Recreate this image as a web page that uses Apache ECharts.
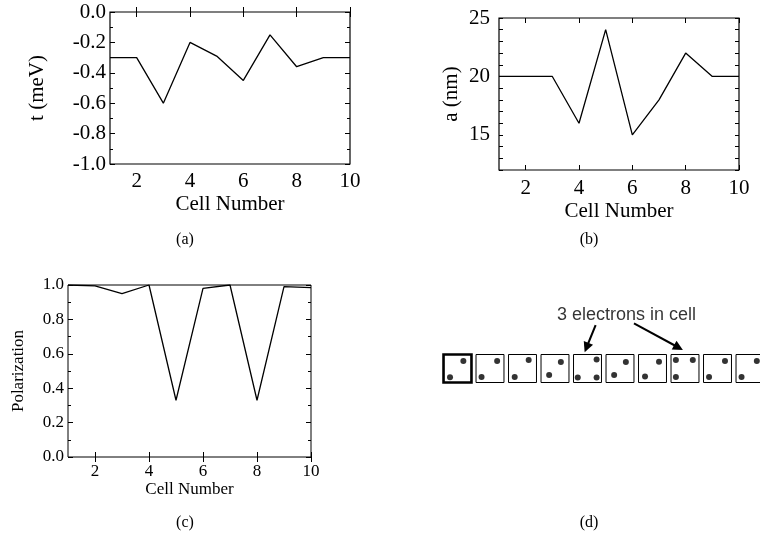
<!DOCTYPE html>
<html>
<head>
<meta charset="utf-8">
<script src="https://cdn.jsdelivr.net/npm/echarts@6/dist/echarts.min.js"></script>
<style>
  html, body { margin: 0; padding: 0; background: #fff; }
  #chart { width: 760px; height: 535px; }
</style>
</head>
<body>
<div id="chart"></div>
<script>
// Cell index along the chain (shared x values of panels a, b, c)
const cellNumbers = [1, 2, 3, 4, 5, 6, 7, 8, 9, 10];

// (a) tunnelling energy t per cell
const hoppingT = [-0.3, -0.3, -0.6, -0.2, -0.29, -0.45, -0.15, -0.36, -0.3, -0.3];
// (b) cell size a per cell
const cellSize = [20, 20, 20, 16, 24, 15, 18, 22, 20, 20];
// (c) polarization per cell
const polarization = [1.0, 0.995, 0.95, 1.0, 0.33, 0.98, 1.0, 0.33, 0.99, 0.985];

// tick labels
const xTickValues = [2, 4, 6, 8, 10];
const bTickValues = [15, 20, 25];
const bMinorTicks = [12, 13, 14, 15, 16, 17, 18, 19, 20, 21, 22, 23, 24, 25];

// (d) electrons drawn in each cell: [cell, offset from cell centre, height in cell]
const electronDots = [
  [1, 0.18, 0.77], [1, -0.23, 0.19],
  [2, 0.22, 0.77], [2, -0.26, 0.2],
  [3, 0.19, 0.8], [3, -0.24, 0.2],
  [4, 0.18, 0.73], [4, -0.18, 0.27],
  [5, 0.28, 0.82], [5, -0.3, 0.18], [5, 0.28, 0.18],
  [6, 0.18, 0.73], [6, -0.18, 0.27],
  [7, 0.2, 0.74], [7, -0.23, 0.21],
  [8, -0.28, 0.8], [8, 0.24, 0.8], [8, -0.28, 0.2],
  [9, 0.23, 0.77], [9, -0.26, 0.2],
  [10, 0.21, 0.77], [10, -0.26, 0.2]
];
const annotationText = '3 electrons in cell';
const annotationAt = [6.2, 2.4];
const annotationArrows = [
  [[5.25, 2.05], [4.97, 1.25]],
  [[6.43, 2.11], [7.8, 1.25]]
];

var chart = echarts.init(document.getElementById('chart'));

const serif = 'Liberation Serif';
const black = '#000';

function pair(xs, ys) {
  return xs.map(function (x, i) { return [x, ys[i]]; });
}

// x axes: bottom with labels, top mirror with ticks only
function xAxes(g, fs, margin, gap) {
  const base = {
    gridIndex: g, type: 'value', min: 1, max: 10,
    axisLine: { show: false }, splitLine: { show: false },
    axisTick: { inside: true, length: 5, lineStyle: { color: black }, customValues: xTickValues }
  };
  return [
    Object.assign({}, base, {
      position: 'bottom',
      name: 'Cell Number', nameLocation: 'middle', nameGap: gap,
      nameTextStyle: { fontFamily: serif, fontSize: fs, color: black },
      axisLabel: { customValues: xTickValues, fontFamily: serif, fontSize: fs, color: black, margin: margin }
    }),
    Object.assign({}, base, { position: 'top', axisLabel: { show: false } })
  ];
}

const option = {
  backgroundColor: '#fff',
  animation: false,
  grid: [
    { left: 110, top: 12, width: 240, height: 152, show: true, borderColor: black, borderWidth: 1.2 },
    { left: 499, top: 18, width: 240, height: 152, show: true, borderColor: black, borderWidth: 1.2 },
    { left: 68, top: 285, width: 243, height: 172, show: true, borderColor: black, borderWidth: 1 },
    { left: 441.25, top: 354.5, width: 318.5, height: 28 }
  ],
  xAxis: [].concat(
    xAxes(0, 21, 7, 30),
    xAxes(1, 21, 8, 31),
    xAxes(2, 17, 6, 24),
    [{ gridIndex: 3, type: 'value', min: 0.5, max: 10.3, show: false }]
  ),
  yAxis: [
    // (a)
    {
      gridIndex: 0, type: 'value', min: -1, max: 0, interval: 0.2, position: 'left',
      name: 't (meV)', nameLocation: 'middle', nameGap: 62,
      nameTextStyle: { fontFamily: serif, fontSize: 21, color: black },
      axisLine: { show: false }, splitLine: { show: false },
      axisTick: { inside: true, length: 5, lineStyle: { color: black } },
      minorTick: { show: true, splitNumber: 2, length: 3, lineStyle: { color: black } },
      axisLabel: { fontFamily: serif, fontSize: 21, color: black, margin: 4,
        formatter: function (v) { return v.toFixed(1); } }
    },
    {
      gridIndex: 0, type: 'value', min: -1, max: 0, interval: 0.2, position: 'right',
      axisLine: { show: false }, splitLine: { show: false }, axisLabel: { show: false },
      axisTick: { inside: true, length: 5, lineStyle: { color: black } },
      minorTick: { show: true, splitNumber: 2, length: 3, lineStyle: { color: black } }
    },
    // (b)
    {
      gridIndex: 1, type: 'value', min: 12, max: 25, position: 'left',
      name: 'a (nm)', nameLocation: 'middle', nameGap: 37,
      nameTextStyle: { fontFamily: serif, fontSize: 21, color: black },
      axisLine: { show: false }, splitLine: { show: false },
      axisTick: { inside: true, length: 4, lineStyle: { color: black }, customValues: bMinorTicks },
      axisLabel: { customValues: bTickValues, fontFamily: serif, fontSize: 21, color: black, margin: 9 }
    },
    {
      gridIndex: 1, type: 'value', min: 12, max: 25, position: 'right',
      axisLine: { show: false }, splitLine: { show: false }, axisLabel: { show: false },
      axisTick: { inside: true, length: 4, lineStyle: { color: black }, customValues: bMinorTicks }
    },
    // (c)
    {
      gridIndex: 2, type: 'value', min: 0, max: 1, interval: 0.2, position: 'left',
      name: 'Polarization', nameLocation: 'middle', nameGap: 41,
      nameTextStyle: { fontFamily: serif, fontSize: 17, color: black },
      axisLine: { show: false }, splitLine: { show: false },
      axisTick: { inside: true, length: 5, lineStyle: { color: black } },
      minorTick: { show: true, splitNumber: 2, length: 3, lineStyle: { color: black } },
      axisLabel: { fontFamily: serif, fontSize: 17, color: black, margin: 4,
        formatter: function (v) { return v.toFixed(1); } }
    },
    {
      gridIndex: 2, type: 'value', min: 0, max: 1, interval: 0.2, position: 'right',
      axisLine: { show: false }, splitLine: { show: false }, axisLabel: { show: false },
      axisTick: { inside: true, length: 5, lineStyle: { color: black } },
      minorTick: { show: true, splitNumber: 2, length: 3, lineStyle: { color: black } }
    },
    // (d)
    { gridIndex: 3, type: 'value', min: 0, max: 1, show: false }
  ],
  series: [
    {
      type: 'line', xAxisIndex: 0, yAxisIndex: 0, data: pair(cellNumbers, hoppingT),
      symbol: 'none', lineStyle: { color: black, width: 1.3 }
    },
    {
      type: 'line', xAxisIndex: 2, yAxisIndex: 2, data: pair(cellNumbers, cellSize),
      symbol: 'none', lineStyle: { color: black, width: 1.3 }
    },
    {
      type: 'line', xAxisIndex: 4, yAxisIndex: 4, data: pair(cellNumbers, polarization),
      symbol: 'none', lineStyle: { color: black, width: 1.3 }
    },
    // (d) cells of the chain
    {
      type: 'custom', xAxisIndex: 6, yAxisIndex: 6, clip: false,
      data: cellNumbers.map(function (c) { return [c, 0.5]; }),
      renderItem: function (params, api) {
        const c = api.coord([api.value(0), api.value(1)]);
        const s = api.size([0.86, 1]);
        return {
          type: 'rect',
          shape: { x: c[0] - s[0] / 2, y: c[1] - s[1] / 2, width: s[0], height: s[1] },
          style: { fill: 'none', stroke: black, lineWidth: params.dataIndex === 0 ? 2.6 : 1 }
        };
      }
    },
    {
      type: 'scatter', xAxisIndex: 6, yAxisIndex: 6, clip: false,
      data: electronDots.map(function (d) { return [d[0] + d[1], d[2]]; }),
      symbol: 'circle', symbolSize: 6, itemStyle: { color: black }
    },
    {
      type: 'lines', coordinateSystem: 'cartesian2d', xAxisIndex: 6, yAxisIndex: 6, clip: false,
      data: annotationArrows.map(function (a) { return { coords: a }; }),
      symbol: ['none', 'triangle'], symbolSize: 10,
      lineStyle: { color: black, width: 2, opacity: 1 }
    },
    {
      type: 'scatter', xAxisIndex: 6, yAxisIndex: 6, clip: false,
      data: [annotationAt], symbolSize: 1, itemStyle: { color: 'rgba(0,0,0,0)' },
      label: {
        show: true, position: 'inside', formatter: annotationText,
        fontFamily: 'Liberation Sans', fontSize: 18, color: black
      }
    }
  ],
  graphic: [
    { type: 'text', x: 185, y: 240, style: { text: '(a)', align: 'center', verticalAlign: 'middle', font: '16px "Liberation Serif"', fill: black } },
    { type: 'text', x: 589, y: 240, style: { text: '(b)', align: 'center', verticalAlign: 'middle', font: '16px "Liberation Serif"', fill: black } },
    { type: 'text', x: 185, y: 523, style: { text: '(c)', align: 'center', verticalAlign: 'middle', font: '16px "Liberation Serif"', fill: black } },
    { type: 'text', x: 589, y: 523, style: { text: '(d)', align: 'center', verticalAlign: 'middle', font: '16px "Liberation Serif"', fill: black } }
  ]
};

chart.setOption(option);
</script>
</body>
</html>
